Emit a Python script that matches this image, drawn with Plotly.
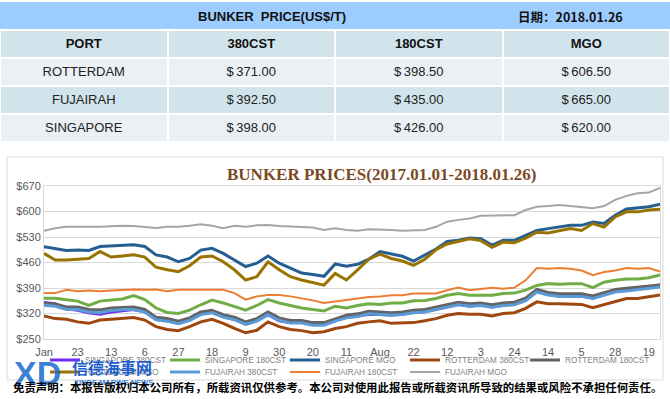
import plotly.graph_objects as go

W, H = 670, 399


def px(x):
    return x / W


def py(y):
    return 1 - y / H


# ---------------- table data ----------------
table_title = "BUNKER\u00a0 PRICE(US$/T)"
report_date = "日期：2018.01.26"
table_cols = ["PORT", "380CST", "180CST", "MGO"]
ports = ["ROTTERDAM", "FUJAIRAH", "SINGAPORE"]
price_380 = [371.00, 392.50, 398.00]
price_180 = [398.50, 435.00, 426.00]
price_mgo = [606.50, 665.00, 620.00]

# ---------------- line chart data ----------------
chart_title = "BUNKER PRICES(2017.01.01-2018.01.26)"
# trading-day index of each weekly sample
day_index = list(range(0, 276, 5))
tick_pos = [0, 15, 30, 45, 60, 75, 90, 105, 120, 135, 150, 165, 180, 195, 210, 225, 240, 255, 270]
tick_text = ["Jan", "23", "13", "6", "27", "18", "9", "30", "20", "11", "Aug",
             "22", "12", "3", "24", "14", "5", "28", "19"]
y_ticks = [250, 320, 390, 460, 530, 600, 670]
y_tick_text = ["$250", "$320", "$390", "$460", "$530", "$600", "$670"]

sg_380 = [350, 347, 333, 329, 322, 318, 324, 328, 331, 325, 304, 300, 293, 302, 320, 324, 311, 304, 291, 300,
          317, 300, 295, 296, 290, 290, 301, 310,
          313, 318, 317, 316, 318, 323, 325, 331, 338, 345, 340, 343, 338, 343, 346, 356, 381, 372, 369, 369,
          368, 362, 373, 382, 385, 388, 392, 398]
sg_180 = [362, 362, 358, 354, 342, 354, 357, 360, 369, 358, 335, 323, 320, 329, 344, 357, 349, 340, 329, 342,
          358, 349, 342, 335, 331, 327, 340, 335,
          342, 347, 345, 349, 349, 355, 356, 361, 370, 375, 370, 370, 370, 375, 376, 384, 397, 402, 400, 402,
          402, 391, 406, 411, 415, 415, 418, 426]
sg_mgo = [503, 497, 493, 494, 493, 504, 506, 507, 509, 504, 481, 475, 462, 471, 494, 499, 485, 467, 449, 458,
          478, 458, 444, 431, 427, 422, 456, 450,
          455, 469, 490, 483, 477, 464, 480, 497, 518, 521, 527, 525, 508, 521, 521, 535, 548, 553, 557, 562,
          562, 571, 567, 590, 607, 610, 613, 620]
rot_380 = [313, 306, 304, 297, 293, 302, 304, 306, 309, 302, 284, 276, 273, 284, 297, 304, 293, 279, 267, 274,
           297, 284, 276, 273, 267, 270, 279, 284,
           293, 297, 300, 293, 293, 295, 300, 306, 315, 320, 318, 318, 313, 320, 322, 334, 352, 347, 347, 345,
           345, 336, 345, 354, 361, 361, 365, 371]
rot_180 = [348, 346, 338, 338, 331, 330, 335, 337, 338, 331, 310, 306, 299, 308, 324, 329, 317, 310, 297, 306,
           324, 308, 301, 301, 295, 295, 306, 315,
           319, 326, 324, 322, 324, 329, 331, 338, 344, 351, 347, 349, 344, 349, 351, 362, 386, 378, 374, 374,
           374, 368, 378, 386, 389, 392, 395, 398.5]
rot_mgo = [485, 467, 467, 469, 471, 490, 475, 478, 481, 475, 447, 440, 435, 451, 475, 478, 462, 440, 412, 421,
           462, 440, 421, 412, 405, 398, 430, 412,
           440, 469, 483, 471, 464, 452, 469, 495, 511, 518, 525, 520, 502, 516, 514, 527, 543, 541, 548, 553,
           548, 567, 557, 585, 599, 599, 604, 606.5]
fuj_380 = [343, 340, 331, 331, 324, 322, 328, 331, 331, 324, 303, 299, 292, 301, 317, 322, 310, 303, 290, 299,
           317, 301, 294, 294, 288, 288, 299, 308,
           312, 319, 317, 315, 317, 322, 324, 331, 337, 344, 340, 342, 337, 342, 344, 355, 379, 371, 367, 367,
           367, 361, 371, 379, 382, 385, 388, 392.5]
fuj_180 = [376, 376, 385, 381, 383, 381, 383, 385, 386, 385, 386, 381, 385, 385, 386, 385, 385, 376, 358, 367,
           371, 371, 367, 362, 356, 349, 353, 358,
           361, 365, 367, 370, 370, 375, 375, 375, 384, 391, 384, 388, 391, 388, 391, 411, 445, 443, 445, 443,
           438, 425, 434, 438, 445, 443, 445, 435]
fuj_mgo = [547, 554, 558, 557, 558, 558, 560, 561, 560, 558, 555, 558, 558, 561, 565, 561, 554, 561, 558, 562,
           563, 560, 558, 558, 556, 549, 554, 549,
           547, 551, 551, 549, 547, 547, 549, 558, 572, 577, 581, 588, 588, 588, 590, 604, 613, 615, 618, 615,
           612, 609, 615, 632, 643, 650, 652, 665]

series = [
    ("SINGAPORE 380CST", sg_380, "#6F2DF0", 3, "legend"),
    ("SINGAPORE 180CST", sg_180, "#70AD47", 3, "legend"),
    ("SINGAPORE MGO", sg_mgo, "#255E91", 3, "legend"),
    ("ROTTERDAM 380CST", rot_380, "#9E480E", 3, "legend4"),
    ("ROTTERDAM 180CST", rot_180, "#636363", 3, "legend3"),
    ("ROTTERDAM MGO", rot_mgo, "#997300", 3, "legend2"),
    ("FUJAIRAH 380CST", fuj_380, "#5B9BD5", 3, "legend2"),
    ("FUJAIRAH 180CST", fuj_180, "#ED7D31", 2, "legend2"),
    ("FUJAIRAH MGO", fuj_mgo, "#A5A5A5", 2, "legend2"),
]

fig = go.Figure()

# ---------------- table ----------------
c_light = "#EAF0F4"
c_dark = "#D1E3EB"
fig.add_trace(go.Table(
    domain=dict(x=[0, 1], y=[py(144), py(30)]),
    columnwidth=[1, 1, 1, 1],
    header=dict(
        values=table_cols,
        fill_color=c_dark,
        line=dict(color="white", width=2),
        align="center",
        height=28,
        font=dict(family="Liberation Sans, Arial, sans-serif", size=13, color="#111111", weight="bold"),
    ),
    cells=dict(
        values=[ports,
                ["$\u2009%.2f" % v for v in price_380],
                ["$\u2009%.2f" % v for v in price_180],
                ["$\u2009%.2f" % v for v in price_mgo]],
        fill_color=[[c_light, c_dark, c_light]] * 4,
        line=dict(color="white", width=2),
        align="center",
        height=28,
        font=dict(family="Liberation Sans, Arial, sans-serif", size=13, color="#222222"),
    ),
))

# ---------------- lines ----------------
for name, vals, color, width, leg in series:
    fig.add_trace(go.Scatter(
        x=day_index, y=vals, name=name, mode="lines",
        line=dict(color=color, width=width),
        legend=leg, hoverinfo="skip",
    ))

legend_font = dict(family="Liberation Sans, Arial, sans-serif", size=8.2, color="#7F7F7F")
leg_common = dict(orientation="h", xanchor="left", yanchor="middle", itemwidth=30,
                  font=legend_font, bgcolor="rgba(0,0,0,0)", borderwidth=0)
fig.update_layout(
    width=W, height=H,
    margin=dict(l=0, r=0, t=0, b=0, pad=0, autoexpand=False),
    paper_bgcolor="white",
    plot_bgcolor="white",
    xaxis=dict(
        domain=[px(44), px(660)], range=[0, 275], automargin=False,
        tickmode="array", tickvals=tick_pos, ticktext=tick_text,
        showgrid=False, zeroline=False, ticks="", ticklabelstandoff=3,
        showline=True, linecolor="#D9D9D9", linewidth=1, mirror=True,
        tickfont=dict(family="Liberation Sans, Arial, sans-serif", size=11, color="#595959"),
    ),
    yaxis=dict(
        domain=[py(339), py(186)], range=[250, 670], automargin=False,
        tickmode="array", tickvals=y_ticks, ticktext=y_tick_text,
        showgrid=True, gridcolor="#D9D9D9", gridwidth=1, zeroline=False, ticks="",
        showline=True, linecolor="#D9D9D9", linewidth=1, mirror=True,
        tickfont=dict(family="Liberation Sans, Arial, sans-serif", size=11, color="#595959"),
    ),
    legend=dict(x=px(45), y=py(360), entrywidth=75, entrywidthmode="pixels", **leg_common),
    legend4=dict(x=px(405), y=py(360), **leg_common),
    legend3=dict(x=px(525), y=py(360), **leg_common),
    legend2=dict(x=px(45), y=py(372), entrywidth=75, entrywidthmode="pixels", **leg_common),
    showlegend=True,
)

shapes = [
    # header band of the table
    dict(type="rect", xref="paper", yref="paper", x0=0, x1=1, y0=py(30), y1=py(2),
         fillcolor="#9DCCFF", line=dict(width=0), layer="below"),
    # chart frame
    dict(type="rect", xref="paper", yref="paper", x0=px(7), x1=px(663), y0=py(380), y1=py(157),
         fillcolor="rgba(0,0,0,0)", line=dict(color="#D9D9D9", width=1), layer="below"),
]
fig.update_layout(shapes=shapes)


def note(text, x, y, **font):
    return dict(text=text, x=px(x), y=py(y), xref="paper", yref="paper", showarrow=False,
                xanchor="center", yanchor="middle", font=font)


annotations = [
    note(table_title, 272, 16, family="Liberation Sans, Arial, sans-serif", size=13, color="#111111", weight="bold"),
    note(report_date, 570, 16, family="Noto Sans CJK SC, Liberation Sans, sans-serif", size=12.5,
         color="#111111", weight="bold"),
    note(chart_title, 381, 174, family="Liberation Serif, Times New Roman, serif", size=17,
         color="#7B4A25", weight="bold"),
    # logo
    note("XD", 37, 373, family="Liberation Sans, Arial, sans-serif", size=34,
         color="rgba(25,105,205,0.85)", weight="bold"),
    note("信德海事网", 112, 367, family="Noto Sans CJK SC, sans-serif", size=16, color="#1E5FCC", weight="bold"),
    note("XINDE MARINE NEWS", 113, 382, family="Liberation Sans, Arial, sans-serif", size=7.5,
         color="#3A7BD5", weight="bold"),
    # disclaimer
    note("免责声明：本报告版权归本公司所有，所载资讯仅供参考。本公司对使用此报告或所载资讯所导致的结果或风险不承担任何责任。",
         337, 387, family="Noto Sans CJK SC, sans-serif", size=11.4, color="#000000", weight="bold"),
]
fig.update_layout(annotations=annotations)

fig.write_html("out.html", config={"displayModeBar": False},
               post_script="document.body.style.margin='0px';")
